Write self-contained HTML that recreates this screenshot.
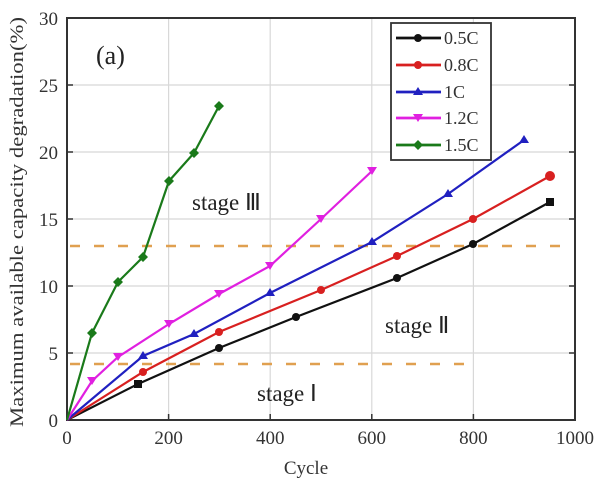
<!DOCTYPE html><html><head><style>body{margin:0;background:#fff}</style></head><body>
<svg width="607" height="486" viewBox="0 0 607 486" xmlns="http://www.w3.org/2000/svg" font-family="Liberation Serif, serif">
<rect width="607" height="486" fill="#fff"/>
<g stroke="#d8d8d8" stroke-width="1.2">
<line x1="168.6" y1="18" x2="168.6" y2="420"/><line x1="270.2" y1="18" x2="270.2" y2="420"/><line x1="371.8" y1="18" x2="371.8" y2="420"/><line x1="473.4" y1="18" x2="473.4" y2="420"/>
<line x1="67" y1="353" x2="575" y2="353"/><line x1="67" y1="286" x2="575" y2="286"/><line x1="67" y1="219" x2="575" y2="219"/><line x1="67" y1="152" x2="575" y2="152"/><line x1="67" y1="85" x2="575" y2="85"/>
</g>
<g stroke="#e0a050" stroke-width="2.5" stroke-dasharray="10,14">
<line x1="70" y1="246" x2="560" y2="246"/><line x1="70" y1="364" x2="475" y2="364"/>
</g>
<rect x="67" y="18" width="508" height="402" fill="none" stroke="#333" stroke-width="2"/>
<g stroke="#333" stroke-width="1.5">
<line x1="168.6" y1="420" x2="168.6" y2="414"/><line x1="270.2" y1="420" x2="270.2" y2="414"/><line x1="371.8" y1="420" x2="371.8" y2="414"/><line x1="473.4" y1="420" x2="473.4" y2="414"/>
<line x1="67" y1="353" x2="73" y2="353"/><line x1="67" y1="286" x2="73" y2="286"/><line x1="67" y1="219" x2="73" y2="219"/><line x1="67" y1="152" x2="73" y2="152"/><line x1="67" y1="85" x2="73" y2="85"/>
<line x1="575" y1="353" x2="569" y2="353"/><line x1="575" y1="286" x2="569" y2="286"/><line x1="575" y1="219" x2="569" y2="219"/><line x1="575" y1="152" x2="569" y2="152"/><line x1="575" y1="85" x2="569" y2="85"/>
</g>
<g font-size="19" fill="#333" text-anchor="middle">
<text x="67" y="444">0</text><text x="168.6" y="444">200</text><text x="270.2" y="444">400</text><text x="371.8" y="444">600</text><text x="473.4" y="444">800</text><text x="575" y="444">1000</text>
<text x="306" y="474">Cycle</text>
</g>
<g font-size="19" fill="#333" text-anchor="end">
<text x="58" y="427">0</text><text x="58" y="360">5</text><text x="58" y="293">10</text><text x="58" y="226">15</text><text x="58" y="159">20</text><text x="58" y="92">25</text><text x="58" y="25">30</text>
</g>
<text transform="translate(23,222) rotate(-90)" font-size="18.5" fill="#333" text-anchor="middle" textLength="410" lengthAdjust="spacingAndGlyphs">Maximum available capacity degradation(%)</text>
<text x="96" y="64" font-size="26" fill="#222">(a)</text>
<text x="192" y="210" font-size="23" fill="#222">stage Ⅲ</text>
<text x="385" y="333" font-size="23" fill="#222">stage Ⅱ</text>
<text x="257" y="401" font-size="23" fill="#222">stage Ⅰ</text>
<g fill="none" stroke-width="2.2">
<polyline stroke="#111" points="67,420 138,384 219,348 296,317 397,278 473,244 550,202"/>
<polyline stroke="#d82020" points="67,420 143,372 219,332 321,290 397,256 473,219 550,176"/>
<polyline stroke="#2020c0" points="67,420 143,356 194,334 270,293 372,242 448,194 524,140"/>
<polyline stroke="#e020e0" points="67,420 92,381 118,357 169,324 219,294 270,266 321,219 372,171"/>
<polyline stroke="#1a7a1a" points="67,420 92,333 118,282 143,257 169,181 194,153 219,106"/>
</g>
<g fill="#111"><rect x="134" y="380" width="8" height="8"/><circle cx="219" cy="348" r="4"/><circle cx="296" cy="317" r="4"/><circle cx="397" cy="278" r="4"/><circle cx="473" cy="244" r="4"/><rect x="546" y="198" width="8" height="8"/></g>
<g fill="#d82020"><circle cx="143" cy="372" r="4"/><circle cx="219" cy="332" r="4"/><circle cx="321" cy="290" r="4"/><circle cx="397" cy="256" r="4"/><circle cx="473" cy="219" r="4"/><circle cx="550" cy="176" r="5"/></g>
<g fill="#2020c0"><path d="M143,351l5,8h-10z M194,329l5,8h-10z M270,288l5,8h-10z M372,237l5,8h-10z M448,189l5,8h-10z M524,135l5,8h-10z"/></g>
<g fill="#e020e0"><path d="M92,385l5,-8h-10z M118,361l5,-8h-10z M169,328l5,-8h-10z M219,298l5,-8h-10z M270,270l5,-8h-10z M321,223l5,-8h-10z M372,175l5,-8h-10z"/></g>
<g fill="#1a7a1a"><path d="M92,328l5,5l-5,5l-5,-5z M118,277l5,5l-5,5l-5,-5z M143,252l5,5l-5,5l-5,-5z M169,176l5,5l-5,5l-5,-5z M194,148l5,5l-5,5l-5,-5z M219,101l5,5l-5,5l-5,-5z"/></g>
<rect x="391" y="23" width="100" height="137" fill="#fff" stroke="#333" stroke-width="1.8"/>
<g stroke-width="2.8">
<line x1="396" y1="38" x2="441" y2="38" stroke="#111"/><line x1="396" y1="65" x2="441" y2="65" stroke="#d82020"/><line x1="396" y1="92" x2="441" y2="92" stroke="#2020c0"/><line x1="396" y1="118" x2="441" y2="118" stroke="#e020e0"/><line x1="396" y1="145" x2="441" y2="145" stroke="#1a7a1a"/>
</g>
<circle cx="418" cy="38" r="4" fill="#111"/><circle cx="418" cy="65" r="4" fill="#d82020"/><path d="M418,87l5,8h-10z" fill="#2020c0"/><path d="M418,122l5,-8h-10z" fill="#e020e0"/><path d="M418,140l5,5l-5,5l-5,-5z" fill="#1a7a1a"/>
<g font-size="18" fill="#333"><text x="444" y="44">0.5C</text><text x="444" y="71">0.8C</text><text x="444" y="98">1C</text><text x="444" y="124">1.2C</text><text x="444" y="151">1.5C</text></g>
</svg>
</body></html>
